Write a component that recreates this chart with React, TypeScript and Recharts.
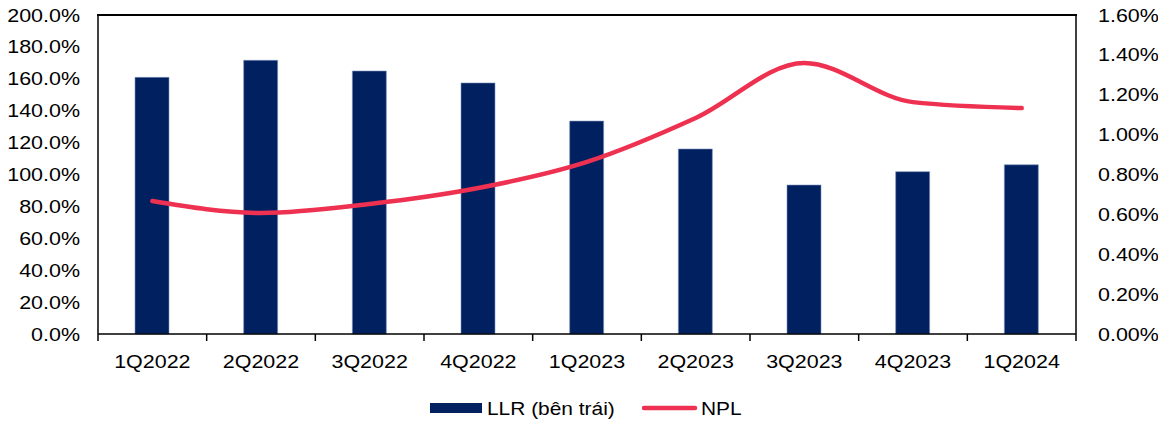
import React from "react";
import { ComposedChart, Bar, Line, XAxis, YAxis, Legend } from "recharts";

const categories = ["1Q2022", "2Q2022", "3Q2022", "4Q2022", "1Q2023", "2Q2023", "3Q2023", "4Q2023", "1Q2024"];
const llrValues = [160.9, 171.6, 164.9, 157.4, 133.5, 116.0, 93.4, 101.8, 106.1];
const nplValues = [0.667, 0.607, 0.652, 0.732, 0.863, 1.083, 1.359, 1.163, 1.133];
const leftTicks = [0, 20, 40, 60, 80, 100, 120, 140, 160, 180, 200];
const rightTicks = [0, 0.2, 0.4, 0.6, 0.8, 1.0, 1.2, 1.4, 1.6];

const data = categories.map((c, i) => ({ cat: c, llr: llrValues[i], npl: nplValues[i] }));

const FONT = "'Liberation Sans', Arial, sans-serif";
const FS = 19;
const SX = 1.13;
const BAR_COLOR = "#002060";
const LINE_COLOR = "#EE3150";

const XTick = (props: any) => {
  const { x, y, payload, index, visibleTicksCount } = props;
  const off = payload.offset ?? 0;
  return (
    <g>
      <line x1={x - off} x2={x - off} y1={y} y2={y + 7} stroke="#000" strokeWidth={1.5} />
      {index === visibleTicksCount - 1 && (
        <line x1={x + off} x2={x + off} y1={y} y2={y + 7} stroke="#000" strokeWidth={1.5} />
      )}
      <text
        transform={`translate(${x},${y + 27}) scale(${SX},1)`}
        textAnchor="middle"
        dominantBaseline="central"
        fontFamily={FONT}
        fontSize={FS}
        fill="#000"
      >
        {payload.value}
      </text>
    </g>
  );
};

const LeftTick = (props: any) => {
  const { x, y, payload } = props;
  return (
    <text
      transform={`translate(${x},${y}) scale(${SX},1)`}
      textAnchor="end"
      dominantBaseline="central"
      fontFamily={FONT}
      fontSize={FS}
      fill="#000"
    >
      {`${Number(payload.value).toFixed(1)}%`}
    </text>
  );
};

const RightTick = (props: any) => {
  const { x, y, payload } = props;
  return (
    <text
      transform={`translate(${x},${y}) scale(${SX},1)`}
      textAnchor="start"
      dominantBaseline="central"
      fontFamily={FONT}
      fontSize={FS}
      fill="#000"
    >
      {`${Number(payload.value).toFixed(2)}%`}
    </text>
  );
};

const LegendContent = () => (
  <svg width={1158} height={30}>
    <rect x={430} y={8} width={52} height={10} fill={BAR_COLOR} />
    <text
      transform={`translate(487,13) scale(1.1,1)`}
      dominantBaseline="central"
      fontFamily={FONT}
      fontSize={FS}
      fill="#000"
    >
      LLR (bên trái)
    </text>
    <line x1={644} x2={695} y1={13} y2={13} stroke={LINE_COLOR} strokeWidth={4.5} strokeLinecap="round" />
    <text
      transform={`translate(701,13) scale(1.1,1)`}
      dominantBaseline="central"
      fontFamily={FONT}
      fontSize={FS}
      fill="#000"
    >
      NPL
    </text>
  </svg>
);

export default function App() {
  return (
    <div style={{ position: "absolute", left: 0, top: 0, width: 1158, height: 423, background: "#fff" }}>
      <ComposedChart
        width={1158}
        height={423}
        data={data}
        margin={{ top: 15, right: 0, bottom: 59, left: 0 }}
      >
        <XAxis
          xAxisId="main"
          dataKey="cat"
          orientation="bottom"
          height={30}
          axisLine={{ stroke: "#000", strokeWidth: 1.5 }}
          tickLine={false}
          tickSize={0}
          tickMargin={0}
          interval={0}
          tick={<XTick />}
        />
        <YAxis
          yAxisId="left"
          orientation="left"
          width={98}
          domain={[0, 200]}
          ticks={leftTicks}
          axisLine={{ stroke: "#000", strokeWidth: 1.5 }}
          tickLine={false}
          tickSize={0}
          tickMargin={18}
          tick={<LeftTick />}
          interval={0}
        />
        <YAxis
          yAxisId="right"
          orientation="right"
          width={82}
          domain={[0, 1.6]}
          ticks={rightTicks}
          axisLine={{ stroke: "#000", strokeWidth: 1.5 }}
          tickLine={false}
          tickSize={0}
          tickMargin={22}
          tick={<RightTick />}
          interval={0}
        />
        <Bar
          xAxisId="main"
          yAxisId="left"
          dataKey="llr"
          name="LLR (bên trái)"
          fill={BAR_COLOR}
          stroke="#7f93c0"
          strokeWidth={0.6}
          barSize={34}
          isAnimationActive={false}
        />
        <Line
          xAxisId="main"
          yAxisId="right"
          dataKey="npl"
          name="NPL"
          type="monotone"
          stroke={LINE_COLOR}
          strokeWidth={4.5}
          strokeLinecap="round"
          dot={false}
          activeDot={false}
          isAnimationActive={false}
        />
        <Legend
          layout="horizontal"
          verticalAlign="middle"
          align="center"
          content={<LegendContent />}
          wrapperStyle={{ position: "absolute", left: 0, top: 395, width: 1158, height: 30 }}
        />
      </ComposedChart>
      <div
        style={{
          position: "absolute",
          left: 97,
          top: 14,
          width: 980,
          height: 2,
          background: "#000",
          zIndex: 10,
          pointerEvents: "none",
        }}
      />
    </div>
  );
}
